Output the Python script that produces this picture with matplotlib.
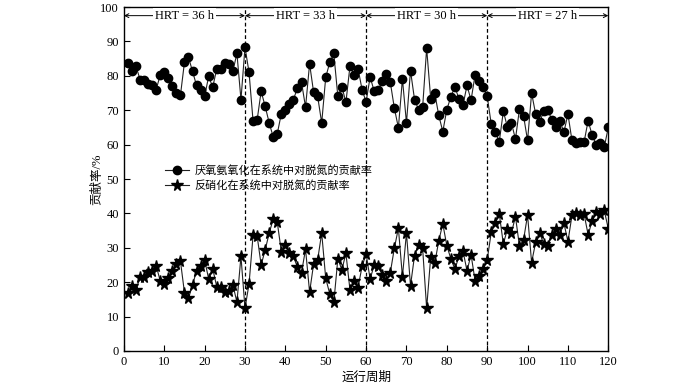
import matplotlib
matplotlib.use("Agg")
import matplotlib.pyplot as plt
import numpy as np

plt.rcParams['font.family'] = ['Liberation Serif', 'Noto Sans CJK SC']
plt.rcParams['axes.unicode_minus'] = False

periods = list(range(1, 121))
anammox = [83.7, 81.5, 82.8, 78.9, 78.9, 77.6, 77.2, 76.0, 80.3, 81.0,
           79.4, 77.1, 75.0, 74.3, 83.9, 85.4, 81.3, 77.2, 75.8, 74.0,
           79.9, 76.7, 82.0, 82.0, 83.7, 83.5, 81.4, 86.5, 73.1, 88.3,
           81.0, 66.8, 67.1, 75.5, 71.1, 66.3, 62.2, 63.2, 69.0, 70.0,
           71.9, 73.1, 76.5, 78.1, 70.9, 83.5, 75.2, 74.0, 66.3, 79.6,
           83.9, 86.5, 74.0, 76.8, 72.3, 82.8, 80.3, 82.1, 76.0, 72.4,
           79.7, 75.5, 75.8, 78.6, 80.4, 78.1, 70.6, 64.9, 79.1, 66.3,
           81.5, 73.1, 70.2, 70.8, 88.0, 73.4, 75.0, 68.5, 63.8, 70.2,
           73.9, 76.8, 73.3, 71.5, 77.2, 72.9, 80.3, 78.6, 76.8, 74.0,
           66.0, 63.6, 60.9, 69.7, 65.1, 66.3, 61.6, 70.4, 68.4, 61.2,
           75.0, 68.9, 66.5, 69.7, 70.2, 67.2, 65.0, 67.0, 63.6, 68.9,
           61.2, 60.4, 60.9, 60.7, 67.0, 62.7, 60.0, 60.4, 59.3, 65.0]
denit = [17.0, 18.9, 17.8, 21.4, 21.6, 23.1, 23.3, 24.7, 20.4, 19.4,
         21.2, 23.3, 25.3, 26.2, 17.0, 15.3, 19.2, 23.3, 24.7, 26.5,
         20.9, 23.9, 18.7, 18.7, 17.2, 17.3, 19.2, 14.2, 27.5, 12.4,
         19.5, 33.6, 33.5, 25.0, 29.4, 34.3, 38.4, 37.4, 28.9, 30.9,
         28.6, 27.5, 24.3, 22.8, 29.6, 17.1, 25.3, 26.5, 34.3, 21.1,
         16.6, 14.1, 26.8, 23.6, 28.4, 17.8, 20.4, 18.4, 24.6, 28.2,
         20.9, 25.0, 24.6, 22.1, 20.4, 22.8, 29.9, 35.7, 21.6, 34.3,
         19.0, 27.7, 30.9, 29.9, 12.4, 27.3, 25.5, 32.0, 37.0, 30.6,
         26.8, 23.8, 27.5, 29.1, 23.3, 28.0, 20.4, 21.9, 23.8, 26.5,
         34.5, 37.2, 39.8, 31.1, 35.4, 34.3, 39.1, 30.4, 32.3, 39.5,
         25.7, 31.6, 34.3, 31.1, 30.6, 33.6, 35.5, 33.8, 37.2, 31.8,
         39.4, 40.1, 39.6, 39.8, 33.8, 37.8, 40.3, 39.9, 40.9, 35.5]
series_labels = ['厌氧氨氧化在系统中对脱氮的贡献率', '反硝化在系统中对脱氮的贡献率']
hrt_bounds = [0, 30, 60, 90, 120]
hrt_labels = ['HRT = 36 h', 'HRT = 33 h', 'HRT = 30 h', 'HRT = 27 h']

fig = plt.figure(figsize=(7.0, 3.83), dpi=100)
ax = fig.add_axes([0.177, 0.0836, 0.692, 0.898])

ax.plot(periods, anammox, color='#222222', lw=0.8, marker='o', ms=6,
        mfc='black', mec='black', label=series_labels[0])
ax.plot(periods, denit, color='#222222', lw=0.8, marker='*', ms=8.5,
        mfc='black', mec='black', label=series_labels[1])

for b in hrt_bounds[1:-1]:
    ax.axvline(b, color='black', ls=(0, (3, 2)), lw=0.9)

ya = 97.5
for i, lab in enumerate(hrt_labels):
    x0, x1 = hrt_bounds[i], hrt_bounds[i + 1]
    ax.annotate('', xy=(x0, ya), xytext=(x1, ya),
                arrowprops=dict(arrowstyle='<->', lw=0.7, color='black',
                                shrinkA=0, shrinkB=0, mutation_scale=7))
    ax.text((x0 + x1) / 2, ya, lab, ha='center', va='center', fontsize=9,
            bbox=dict(facecolor='white', edgecolor='none', pad=1.5))

ax.set_xlim(0, 120)
ax.set_ylim(0, 100)
ax.set_xticks(np.arange(0, 121, 10))
ax.set_yticks(np.arange(0, 101, 10))
ax.tick_params(direction='in', length=4, labelsize=9, top=False, right=False)
ax.set_xlabel('运行周期', fontsize=9, labelpad=3)
ax.set_ylabel('贡献率/%', fontsize=9, labelpad=-2)
for s in ax.spines.values():
    s.set_linewidth(1.0)

ax.legend(loc='upper left', bbox_to_anchor=(0.075, 0.555), frameon=False,
          fontsize=8, handlelength=2.2, handletextpad=0.5, labelspacing=0.45,
          borderaxespad=0)

fig.savefig('out.png', dpi=100)
